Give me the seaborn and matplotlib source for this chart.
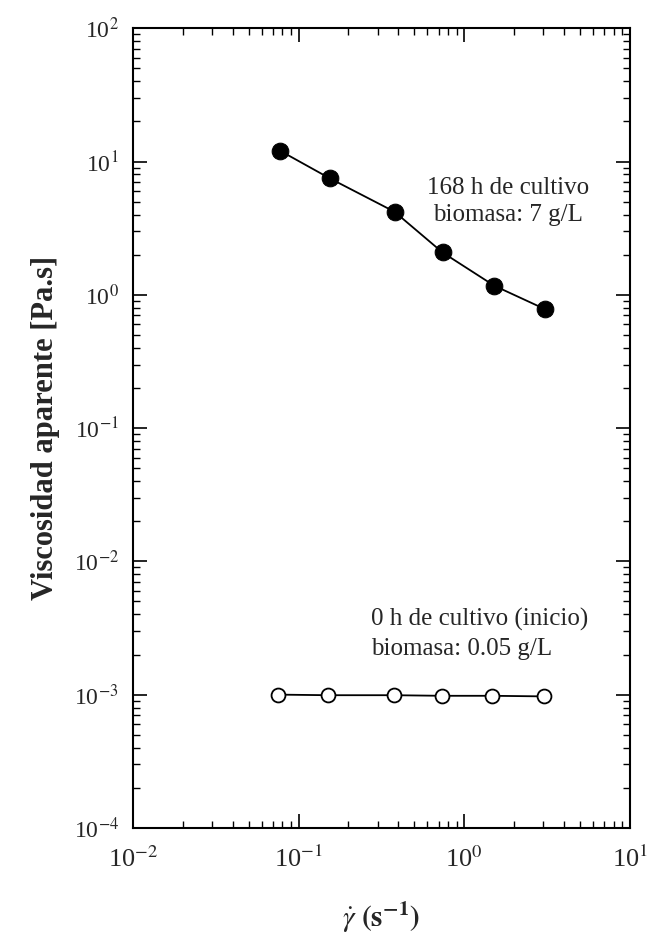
import numpy as np
import pandas as pd
import matplotlib
matplotlib.use("Agg")
import matplotlib.pyplot as plt
from matplotlib.ticker import LogLocator, FixedLocator, NullFormatter
import seaborn as sns

# ---- data ----
shear_168 = [0.077, 0.154, 0.38, 0.74, 1.52, 3.08]
visc_168 = [12.1, 7.5, 4.2, 2.08, 1.17, 0.78]
shear_0 = [0.0757, 0.150, 0.376, 0.734, 1.48, 3.03]
visc_0 = [1.00e-3, 0.99e-3, 0.99e-3, 0.98e-3, 0.98e-3, 0.97e-3]
x_ticks = [1e-2, 1e-1, 1e0, 1e1]
x_tick_labels = [r"10$^{\mathrm{-2}}$", r"10$^{\mathrm{-1}}$", r"10$^{0}$", r"10$^{1}$"]
y_ticks = [1e-4, 1e-3, 1e-2, 1e-1, 1e0, 1e1, 1e2]
y_tick_labels = [r"10$^{\mathrm{-4}}$", r"10$^{\mathrm{-3}}$", r"10$^{\mathrm{-2}}$",
                 r"10$^{\mathrm{-1}}$", r"10$^{0}$", r"10$^{1}$", r"10$^{2}$"]
label_168 = "168 h de cultivo\nbiomasa: 7 g/L"
label_0 = "0 h de cultivo (inicio)\nbiomasa: 0.05 g/L"

sns.set_style("ticks")
plt.rcParams["font.family"] = ["Liberation Serif", "DejaVu Serif"]
plt.rcParams["mathtext.fontset"] = "stix"

fig = plt.figure(figsize=(6.48, 9.44), dpi=100)
ax = fig.add_axes([0.205, 0.123, 0.767, 0.847])
ax.set_xscale("log")
ax.set_yscale("log")

df168 = pd.DataFrame({"x": shear_168, "y": visc_168})
df0 = pd.DataFrame({"x": shear_0, "y": visc_0})

sns.lineplot(data=df168, x="x", y="y", ax=ax, color="black", linewidth=1.3,
             marker="o", markersize=12, markerfacecolor="black",
             markeredgecolor="black", sort=False)
sns.lineplot(data=df0, x="x", y="y", ax=ax, color="black", linewidth=1.3,
             marker="o", markersize=10, markerfacecolor="white",
             markeredgecolor="black", markeredgewidth=1.3, sort=False)

ax.set_xlim(1e-2, 1e1)
ax.set_ylim(1e-4, 1e2)

ax.xaxis.set_major_locator(FixedLocator(x_ticks))
ax.set_xticklabels(x_tick_labels, fontsize=19)
ax.yaxis.set_major_locator(FixedLocator(y_ticks))
ax.set_yticklabels(y_tick_labels, fontsize=17)
ax.xaxis.set_minor_locator(LogLocator(base=10, subs=np.arange(2, 10), numticks=20))
ax.yaxis.set_minor_locator(LogLocator(base=10, subs=np.arange(2, 10), numticks=20))
ax.xaxis.set_minor_formatter(NullFormatter())
ax.yaxis.set_minor_formatter(NullFormatter())

ax.tick_params(which="both", direction="in", top=True, right=True, color="black")
ax.tick_params(which="major", length=10, width=1.2)
ax.tick_params(which="minor", length=5, width=1.0)
ax.tick_params(axis="x", which="major", pad=13)
ax.tick_params(axis="y", which="major", pad=10)

for s in ax.spines.values():
    s.set_linewidth(1.5)
    s.set_color("black")

ax.set_xlabel(r"$\dot{\gamma}$ $\mathbf{(s^{-1})}$", fontsize=21,
              fontweight="bold", labelpad=20)
ax.set_ylabel("Viscosidad aparente [Pa.s]", fontsize=22, fontweight="bold",
              labelpad=10)

ax.text(1.85, 5.0, label_168, fontsize=18, ha="center", va="center",
        linespacing=1.3)
ax.text(0.275, 2.85e-3, label_0, fontsize=18, ha="left", va="center",
        linespacing=1.45)

fig.savefig("out.png", dpi=100)
